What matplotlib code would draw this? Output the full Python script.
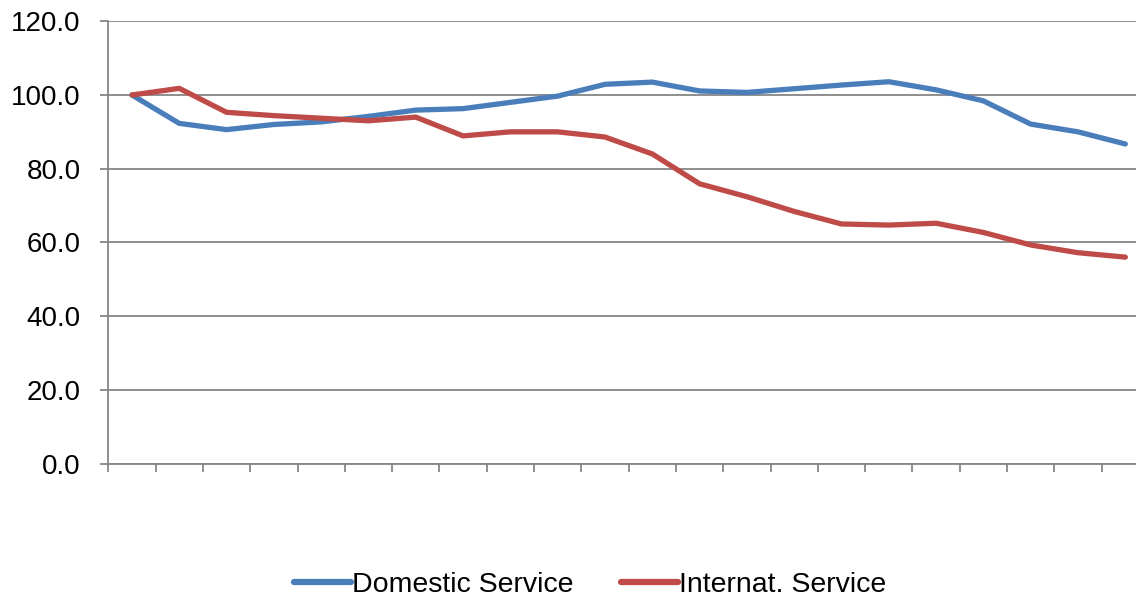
import matplotlib
matplotlib.use("Agg")
import matplotlib.pyplot as plt
from matplotlib.ticker import FixedLocator, NullFormatter
import numpy as np

plt.rcParams['font.family'] = ['Liberation Sans', 'DejaVu Sans']

periods = list(range(22))
domestic = [100.0, 92.3, 90.6, 92.0, 92.7, 94.2, 95.9, 96.3, 98.0, 99.7, 102.9, 103.5,
            101.1, 100.7, 101.7, 102.7, 103.6, 101.4, 98.4, 92.1, 90.0, 86.7]
internat = [100.0, 101.8, 95.3, 94.4, 93.7, 93.0, 94.0, 88.9, 90.0, 90.0, 88.6, 84.0,
            75.9, 72.4, 68.4, 65.0, 64.7, 65.2, 62.7, 59.3, 57.2, 56.0]
series_names = ["Domestic Service", "Internat. Service"]
colors = ["#4A7EBB", "#BE4B48"]
yticks = [0, 20, 40, 60, 80, 100, 120]

W, H = 1136, 601
fig = plt.figure(figsize=(W / 100, H / 100), dpi=100)
left, right, top, bottom = 108.3, 1149.0, 21.3, 463.5
ax = fig.add_axes([left / W, 1 - bottom / H, (right - left) / W, (bottom - top) / H])

grey = "#868686"
ax.plot(periods, domestic, color=colors[0], lw=3.8, label=series_names[0],
        solid_joinstyle="round", solid_capstyle="round", zorder=3)
ax.plot(periods, internat, color=colors[1], lw=3.8, label=series_names[1],
        solid_joinstyle="round", solid_capstyle="round", zorder=3)

ax.set_xlim(-0.5, len(periods) - 0.5)
ax.set_ylim(0, 120)
ax.xaxis.set_major_locator(FixedLocator(np.arange(-0.5, len(periods), 1.0)))
ax.xaxis.set_major_formatter(NullFormatter())
ax.set_yticks(yticks)
ax.set_yticklabels([f"{v:.1f}" for v in yticks])

ax.yaxis.grid(True, color=grey, lw=1.3)
ax.set_axisbelow(True)
for s in ["top", "right"]:
    ax.spines[s].set_visible(False)
for s in ["left", "bottom"]:
    ax.spines[s].set_color(grey)
    ax.spines[s].set_linewidth(1.3)
ax.tick_params(axis="both", direction="out", color=grey, width=1.3, length=6)
ax.tick_params(axis="y", labelsize=20, pad=14, labelcolor="black")

leg = fig.legend(loc="center", bbox_to_anchor=(590 / W, 1 - 585 / H), ncol=2,
                 frameon=False, fontsize=20.5, handlelength=2.0, handletextpad=0.05,
                 columnspacing=1.65)
for line in leg.get_lines():
    line.set_linewidth(4.5)
    line.set_solid_capstyle("round")

fig.savefig("out.png", dpi=100)
